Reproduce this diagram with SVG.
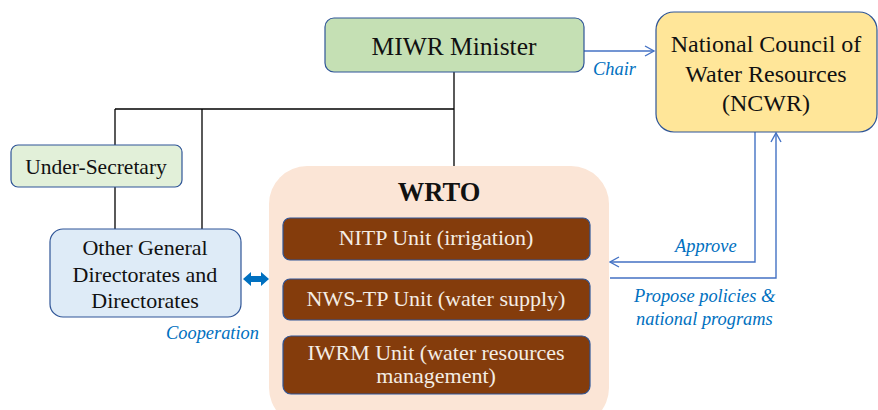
<svg xmlns="http://www.w3.org/2000/svg" width="878" height="410" viewBox="0 0 878 410">
  <style>
    .t { font-family: "Liberation Serif", "Times New Roman", serif; fill: #111; text-anchor: middle; }
    .unit { fill: #843C0C; stroke: #2F5597; stroke-width: 1.2; }
    .ut { font-family: "Liberation Serif", "Times New Roman", serif; fill: #F4EDE4; text-anchor: middle; font-size: 22px; }
    .lbl { font-family: "Liberation Serif", "Times New Roman", serif; font-style: italic; fill: #0070C0; font-size: 18.4px; }
    .org { fill: none; stroke: #000; stroke-width: 1.3; }
    .link { fill: none; stroke: #4472C4; stroke-width: 1.4; }
  </style>
  <defs>
    <marker id="open" markerWidth="12" markerHeight="12" refX="10" refY="6" orient="auto" markerUnits="userSpaceOnUse">
      <path d="M1,1 L10,6 L1,11" fill="none" stroke="#4472C4" stroke-width="1.4"/>
    </marker>
  </defs>

  <!-- org-chart lines and relationship connectors -->
  <g id="connectors">
    <path class="org" d="M454,72 V166"/>
    <path class="org" d="M115,109 H454"/>
    <path class="org" d="M115,109 V145"/>
    <path class="org" d="M115,187 V229"/>
    <path class="org" d="M202,109 V229"/>
    <path class="link" d="M584,51 H654" marker-end="url(#open)"/>
    <path class="link" d="M755,132 V262 H610" marker-end="url(#open)"/>
    <path class="link" d="M610,278 H776 V133" marker-end="url(#open)"/>
    <!-- cooperation double arrow -->
    <path d="M243,279 L251,272 V276 H261 V272 L269,279 L261,286 V282 H251 V286 Z" fill="#0070C0"/>
  </g>

  <g id="minister">
    <rect x="325" y="18" width="259" height="54" rx="9" fill="#C5E0B4" stroke="#2F5597" stroke-width="1.2"/>
    <text class="t" x="454" y="55" font-size="25.5">MIWR Minister</text>
  </g>

  <g id="ncwr">
    <rect x="656" y="12" width="221" height="120" rx="18" fill="#FFE699" stroke="#2F5597" stroke-width="1.2"/>
    <text class="t" x="766" y="52" font-size="24">National Council of</text>
    <text class="t" x="766" y="82" font-size="24">Water Resources</text>
    <text class="t" x="766" y="111" font-size="24">(NCWR)</text>
  </g>

  <g id="under-secretary">
    <rect x="11" y="145" width="171" height="42" rx="7" fill="#E2F0D9" stroke="#2F5597" stroke-width="1.2"/>
    <text class="t" x="96" y="174" font-size="21.5">Under-Secretary</text>
  </g>

  <g id="other-directorates">
    <rect x="50" y="229" width="191" height="88" rx="13" fill="#DEEBF7" stroke="#2F5597" stroke-width="1.2"/>
    <text class="t" x="145" y="255" font-size="22">Other General</text>
    <text class="t" x="145" y="282" font-size="22">Directorates and</text>
    <text class="t" x="145" y="308" font-size="22">Directorates</text>
  </g>

  <g id="wrto">
    <rect x="269" y="166" width="340" height="260" rx="38" fill="#FBE5D6"/>
    <text class="t" x="439" y="201" font-size="26.5" font-weight="bold">WRTO</text>
  </g>

  <g id="nitp">
    <rect class="unit" x="283" y="218" width="307" height="42" rx="7"/>
    <text class="ut" x="436" y="245">NITP Unit (irrigation)</text>
  </g>

  <g id="nws-tp">
    <rect class="unit" x="283" y="279" width="307" height="41" rx="7"/>
    <text class="ut" x="436" y="306">NWS-TP Unit (water supply)</text>
  </g>

  <g id="iwrm">
    <rect class="unit" x="283" y="336" width="307" height="58" rx="8"/>
    <text class="ut" x="436" y="360">IWRM Unit (water resources</text>
    <text class="ut" x="436" y="383">management)</text>
  </g>

  <g id="labels">
    <text class="lbl" x="593" y="75">Chair</text>
    <text class="lbl" x="675" y="252">Approve</text>
    <text class="lbl" x="634" y="302">Propose policies &amp;</text>
    <text class="lbl" x="636" y="325">national programs</text>
    <text class="lbl" x="166" y="339">Cooperation</text>
  </g>
</svg>
